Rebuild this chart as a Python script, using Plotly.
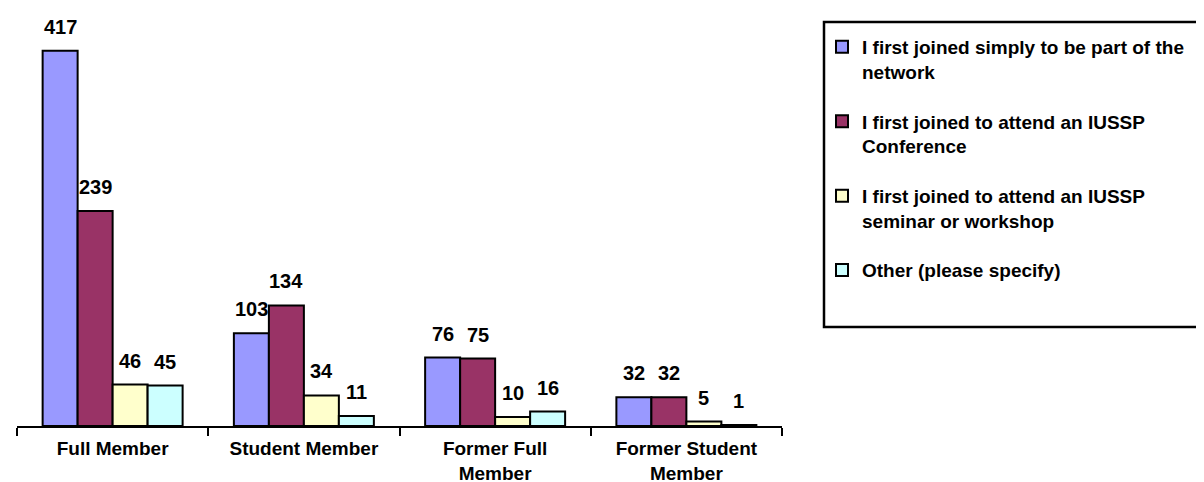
import plotly.graph_objects as go

categories = ["Full Member", "Student Member", "Former Full<br>Member", "Former Student<br>Member"]
series_names = [
    "I first joined simply to be part of the<br>network",
    "I first joined to attend an IUSSP<br>Conference",
    "I first joined to attend an IUSSP<br>seminar or workshop",
    "Other (please specify)",
]
network = [417, 103, 76, 32]
conference = [239, 134, 75, 32]
seminar = [46, 34, 10, 5]
other = [45, 11, 16, 1]
colors = ["#9999FF", "#993366", "#FFFFCC", "#CCFFFF"]

values = [network, conference, seminar, other]
FONT = "Liberation Sans, Arial, sans-serif"
FS = 19
FS_LABEL = 20

fig = go.Figure()
for i, (name, vals) in enumerate(zip(series_names, values)):
    fig.add_trace(go.Bar(
        x=categories, y=vals, name=f"<b>{name.replace('<br>', '</b><br><b>')}</b>",
        marker=dict(color=colors[i], line=dict(color="black", width=2)),
        legendgroup=f"g{i}",
    ))

bargap = 0.268
n = len(values)
bar_px = 765 / len(categories) * (1 - bargap) / n
annotations = []
for i, vals in enumerate(values):
    for cat, v in zip(categories, vals):
        annotations.append(dict(
            x=cat, y=v, text=f"<b>{v}</b>", showarrow=False,
            xshift=(i - (n - 1) / 2) * bar_px, yshift=11, yanchor="bottom",
            font=dict(family=FONT, size=FS_LABEL, color="black"),
        ))

fig.update_layout(
    width=1204, height=482,
    margin=dict(l=9, r=430, t=4, b=64),
    paper_bgcolor="white", plot_bgcolor="white",
    barmode="group", bargap=bargap, bargroupgap=0,
    showlegend=True,
    legend=dict(
        x=(814 - 9) / 765, xanchor="left", y=(418 - 20) / 414, yanchor="top",
        font=dict(family=FONT, size=FS, color="black"),
        valign="top", tracegroupgap=22, borderwidth=0,
        bgcolor="rgba(0,0,0,0)",
    ),
    xaxis=dict(
        showline=True, linecolor="black", linewidth=2,
        ticks="outside", tickson="boundaries", ticklen=8, tickwidth=2, tickcolor="black",
        tickfont=dict(family=FONT, size=FS, color="black"),
        tickvals=categories, ticktext=[f"<b>{c.replace('<br>', '</b><br><b>')}</b>" for c in categories],
        ticklabelstandoff=4,
        showgrid=False, fixedrange=True,
    ),
    yaxis=dict(visible=False, range=[0, 460], fixedrange=True),
    annotations=annotations,
    shapes=[dict(type="rect", xref="paper", yref="paper",
                 x0=(816 - 9) / 765, x1=(1240 - 9) / 765,
                 y0=(418 - 319) / 414, y1=(418 - 14) / 414,
                 line=dict(color="black", width=2.5), fillcolor="rgba(0,0,0,0)")],
)

fig.write_html("out.html")
